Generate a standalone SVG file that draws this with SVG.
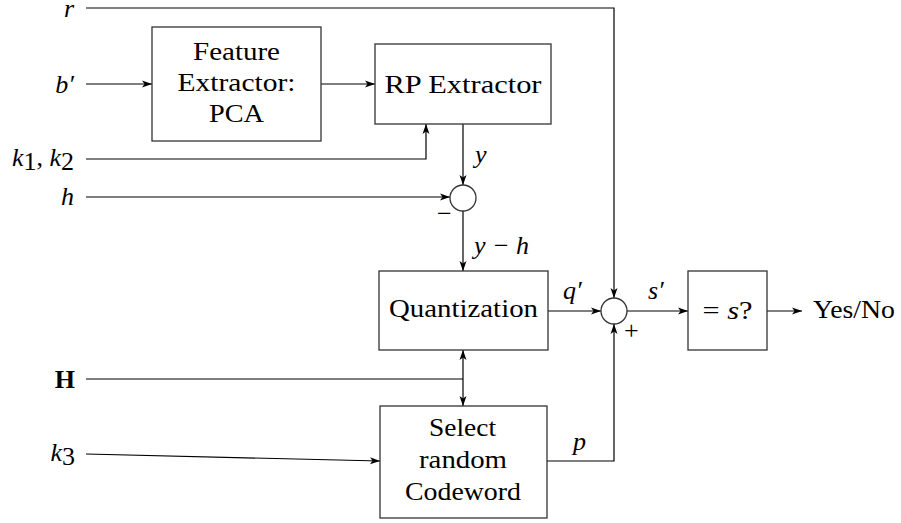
<svg xmlns="http://www.w3.org/2000/svg" width="901" height="523" viewBox="0 0 901 523">
<defs>
<marker id="ah" viewBox="0 0 10 10" refX="10" refY="5" markerWidth="10" markerHeight="10" markerUnits="userSpaceOnUse" orient="auto-start-reverse">
<path d="M0,1.5 L10,5 L0,8.5 L2.5,5 Z" fill="#000"/>
</marker>
<style>
.box{fill:#fff;stroke:#333;stroke-width:1.3}
.ln{fill:none;stroke:#000;stroke-width:1.2}
.t{font-family:"Liberation Serif","DejaVu Serif",serif;font-size:26px;fill:#000}
.m{font-family:"Liberation Serif","DejaVu Serif",serif;font-size:26px;font-style:italic;fill:#000}
.c{text-anchor:middle}
.r{text-anchor:end}
</style>
</defs>
<rect width="901" height="523" fill="#fff"/>
<g id="connectors">
<path class="ln" d="M86,8 H614 V298" marker-end="url(#ah)"/>
<path class="ln" d="M86,84 H152" marker-end="url(#ah)"/>
<path class="ln" d="M321,84 H375" marker-end="url(#ah)"/>
<path class="ln" d="M86,159 H426 V124" marker-end="url(#ah)"/>
<path class="ln" d="M463,124 V185" marker-end="url(#ah)"/>
<path class="ln" d="M86,197 H450" marker-end="url(#ah)"/>
<path class="ln" d="M463,211 V271" marker-end="url(#ah)"/>
<path class="ln" d="M548,311 H601" marker-end="url(#ah)"/>
<path class="ln" d="M86,379 H463"/>
<path class="ln" d="M463,379 V350" marker-end="url(#ah)"/>
<path class="ln" d="M463,379 V406" marker-end="url(#ah)"/>
<path class="ln" d="M86,454 L380,461" marker-end="url(#ah)"/>
<path class="ln" d="M547,461 H614 V324" marker-end="url(#ah)"/>
<path class="ln" d="M627,311 H688" marker-end="url(#ah)"/>
<path class="ln" d="M767,311 H802" marker-end="url(#ah)"/>
</g>
<g id="labels">
<text class="m r" x="74" y="17">r</text>
<text class="m r" x="74" y="93">b′</text>
<text class="r" x="74" y="166"><tspan class="m">k</tspan><tspan class="t" font-size="17" dy="4">1</tspan><tspan class="t" dy="-4">, </tspan><tspan class="m">k</tspan><tspan class="t" font-size="17" dy="4">2</tspan></text>
<text class="m r" x="74" y="205">h</text>
<text class="t r" x="75" y="388" font-weight="bold">H</text>
<text class="r" x="75" y="461"><tspan class="m">k</tspan><tspan class="t" font-size="17" dy="4">3</tspan></text>
<text class="m" x="475" y="163">y</text>
<text class="t" x="437" y="222">−</text>
<text class="m" x="474" y="254">y <tspan class="t">−</tspan> h</text>
<text class="m" x="563" y="299">q′</text>
<text class="t" x="624" y="339" font-size="34">+</text>
<text class="m" x="648" y="299">s′</text>
<text class="m" x="573" y="450">p</text>
<text class="t" x="813" y="318" textLength="82" lengthAdjust="spacingAndGlyphs">Yes/No</text>
</g>
<g id="feature">
<rect class="box" x="152" y="27" width="169" height="114"/>
<text class="t c" x="236.5" y="60" textLength="87" lengthAdjust="spacingAndGlyphs">Feature</text>
<text class="t c" x="236.5" y="91" textLength="118" lengthAdjust="spacingAndGlyphs">Extractor:</text>
<text class="t c" x="236.5" y="122" textLength="55" lengthAdjust="spacingAndGlyphs">PCA</text>
</g>
<g id="rp">
<rect class="box" x="375" y="44" width="176" height="80"/>
<text class="t c" x="463" y="93" textLength="157" lengthAdjust="spacingAndGlyphs">RP Extractor</text>
</g>
<g id="sub">
<circle class="box" cx="463" cy="198" r="13"/>
</g>
<g id="quant">
<rect class="box" x="379" y="271" width="169" height="79"/>
<text class="t c" x="463.5" y="317" textLength="149" lengthAdjust="spacingAndGlyphs">Quantization</text>
</g>
<g id="sum">
<circle class="box" cx="614" cy="311" r="13"/>
</g>
<g id="select">
<rect class="box" x="380" y="406" width="167" height="112"/>
<text class="t c" x="462.5" y="436" textLength="67" lengthAdjust="spacingAndGlyphs">Select</text>
<text class="t c" x="463" y="468" textLength="88" lengthAdjust="spacingAndGlyphs">random</text>
<text class="t c" x="463" y="500" textLength="116" lengthAdjust="spacingAndGlyphs">Codeword</text>
</g>
<g id="check">
<rect class="box" x="688" y="271" width="79" height="79"/>
<text class="c" x="727.5" y="319" textLength="50" lengthAdjust="spacingAndGlyphs"><tspan class="t">= </tspan><tspan class="m">s</tspan><tspan class="t">?</tspan></text>
</g>
</svg>
